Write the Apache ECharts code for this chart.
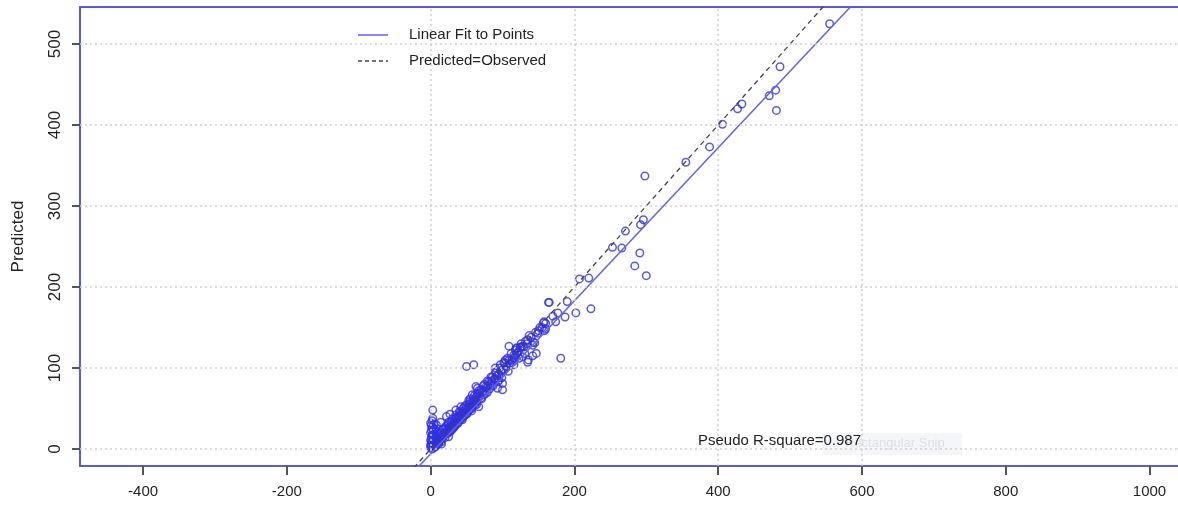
<!DOCTYPE html>
<html><head><meta charset="utf-8">
<script src="https://cdn.jsdelivr.net/npm/echarts@6/dist/echarts.min.js"></script>
<style>html,body{margin:0;padding:0;background:#fff;overflow:hidden}#c{width:1178px;height:512px}</style>
</head><body><div id="c"></div>
<script>
// Observed (x) and Predicted (y) values
const observed = [
555,486,480,471,481,433,427,406,388,355,298,296,292,271,253,266,291,284,300,207,220,223,165,202,187,174,177,157,160,149,145,132,130,181,109,50,60,3,135,147,
164,158,146,135,143,142,128,125,118,116,107,102,111,134,136,125,116,109,103,97,102,90,86,95,100,100,93,81,77,70,63,65,74,79,58,53,63,49,42,67,
0,0,1,0,1,2,0,1,2,1,0,2,3,1,2,3,4,3,5,4,5,6,
3,5,6,8,9,10,12,13,15,16,18,19,20,22,23,25,26,28,29,30,32,33,35,36,38,39,40,42,43,45,46,48,49,50,52,53,55,56,58,59,60,62,63,65,66,68,
10,14,18,21,25,8,12,17,24,30,35,40,7,11,15,20,27,33,38,44,50,55,62,30,45,57,64,70,72,75,78,80,83,85,88,90,92,95,98,100,
105,110,113,118,120,122,128,140,150,155,160,170,190,120,115,
2,4,6,9,12,15,18,22,26,31,35,41,47,53,58,
20,24,28,31,34,37,41,44,47,51,54,57,61,64,67,71,73,76,79,82,84,87,91,94,96,99,104,108,112,116,119,123,126,131,137,142,152,158,
5,8,14,22,27,35,15,25,45,55,75,85,65,90
];
const predicted = [
525,472,443,436,418,426,420,401,373,354,337,283,277,269,249,248,242,226,214,210,211,173,181,168,163,157,168,156,148,143,131,133,126,112,127,102,104,48,107,118,
181,157,144,135,132,115,114,125,122,116,112,107,106,130,110,126,112,110,106,104,98,94,89,85,81,73,75,83,77,73,77,69,67,70,67,60,58,54,52,52,
2,5,8,11,14,17,20,23,26,29,32,35,38,4,10,15,21,27,31,12,18,24,
3,6,4,9,7,11,10,14,13,17,16,20,18,21,24,22,27,26,30,28,31,34,32,37,36,40,38,41,44,43,47,45,50,48,51,55,52,57,55,60,58,61,64,62,68,65,
16,20,25,28,33,14,19,24,30,37,42,46,3,6,9,14,21,27,32,38,43,49,55,24,40,50,58,63,70,72,75,78,80,84,86,87,90,92,96,98,
102,105,110,115,118,120,127,138,146,150,155,164,182,125,108,
0,1,3,6,9,12,16,19,22,27,30,36,41,47,52,
25,20,33,26,38,31,45,36,52,44,58,47,66,55,72,62,78,68,84,74,89,78,95,83,100,88,110,96,118,104,124,112,130,118,140,128,150,146,
25,30,33,40,43,48,6,15,50,62,80,78,75,100
];

const xTicks = [-400,-200,0,200,400,600,800,1000];
const yTicks = [0,100,200,300,400,500];
const xGridValues = [0,200,400,600];
const fitSlope = 0.945;
const fitIntercept = -6;
const lineXRange = [-40, 640];
const legendNames = ['Linear Fit to Points','Predicted=Observed'];
const rSquareLabel = 'Pseudo R-square=0.987';
const yTitle = 'Predicted';

const FONT = "'Liberation Sans', Arial, sans-serif";
const FIT_COLOR = '#6262ec';
const DIAG_COLOR = '#444';
const points = observed.map((x, i) => [x, predicted[i]]);
const fitLine = lineXRange.map(x => [x, fitSlope * x + fitIntercept]);
const diagLine = lineXRange.map(x => [x, x]);

const gridMarks = yTicks.map(v => ({ yAxis: v })).concat(xGridValues.map(v => ({ xAxis: v })));

const chart = echarts.init(document.getElementById('c'), null, { renderer: 'canvas' });
chart.setOption({
  animation: false,
  backgroundColor: '#ffffff',
  textStyle: { fontFamily: FONT },
  grid: {
    left: 80, top: 7, width: 1120, bottom: 46,
    containLabel: false, outerBoundsMode: 'none',
    show: true, borderColor: '#5a5ae0', borderWidth: 2, backgroundColor: 'transparent'
  },
  xAxis: {
    type: 'value', min: -487.7, max: 1070.2,
    axisLine: { show: false, onZero: false },
    splitLine: { show: false },
    axisTick: { show: true, customValues: xTicks, length: 9, lineStyle: { color: '#555', width: 2 } },
    axisLabel: { customValues: xTicks, fontSize: 15, color: '#222', margin: 18, fontFamily: FONT,
      formatter: v => String(v) }
  },
  yAxis: {
    type: 'value', min: -21, max: 545.7,
    name: yTitle, nameLocation: 'middle', nameGap: 53, nameRotate: 90,
    nameTextStyle: { fontSize: 17, color: '#222', fontFamily: FONT },
    axisLine: { show: false, onZero: false },
    splitLine: { show: false },
    axisTick: { show: true, customValues: yTicks, length: 8, lineStyle: { color: '#555', width: 2 } },
    axisLabel: { customValues: yTicks, rotate: 90, fontSize: 17, color: '#222', margin: 16, fontFamily: FONT,
      formatter: v => String(v) }
  },
  series: [
    {
      name: 'points', type: 'scatter', data: points,
      symbol: 'circle', symbolSize: 7.5,
      itemStyle: { color: 'transparent', borderColor: '#2f2fe2', borderWidth: 1.5 },
      silent: true,
      markLine: {
        silent: true, symbol: 'none', label: { show: false },
        lineStyle: { color: '#cfcfcf', type: [2, 3], width: 1.5 },
        data: gridMarks, animation: false
      },
      z: 2
    },
    {
      name: legendNames[0], type: 'line', data: fitLine, symbol: 'none',
      lineStyle: { color: FIT_COLOR, width: 1.5, type: 'solid' },
      silent: true, z: 3
    },
    {
      name: legendNames[1], type: 'line', data: diagLine, symbol: 'none',
      lineStyle: { color: DIAG_COLOR, width: 1.3, type: [5, 4] },
      silent: true, z: 3
    }
  ],
  graphic: [
    // legend
    { type: 'line', shape: { x1: 358, y1: 35, x2: 388, y2: 35 }, style: { stroke: FIT_COLOR, lineWidth: 1.5 }, z: 10, silent: true },
    { type: 'text', x: 409, y: 27, style: { text: legendNames[0], fill: '#222', font: '15px ' + FONT }, z: 10, silent: true },
    { type: 'line', shape: { x1: 358, y1: 61, x2: 388, y2: 61 }, style: { stroke: DIAG_COLOR, lineWidth: 1.3, lineDash: [4, 3] }, z: 10, silent: true },
    { type: 'text', x: 409, y: 53, style: { text: legendNames[1], fill: '#222', font: '15px ' + FONT }, z: 10, silent: true },
    // faint screen-snip overlay
    { type: 'rect', shape: { x: 822, y: 433, width: 140, height: 22 }, style: { fill: '#f4f6fa' }, z: 1, silent: true },
    { type: 'text', x: 845, y: 437, style: { text: 'Rectangular Snip', fill: '#dde0e8', font: '13px ' + FONT }, z: 1, silent: true },
    // R-square annotation
    { type: 'text', x: 698, y: 433, style: { text: rSquareLabel, fill: '#222', font: '15px ' + FONT }, z: 10, silent: true }
  ]
});
</script>
</body></html>
